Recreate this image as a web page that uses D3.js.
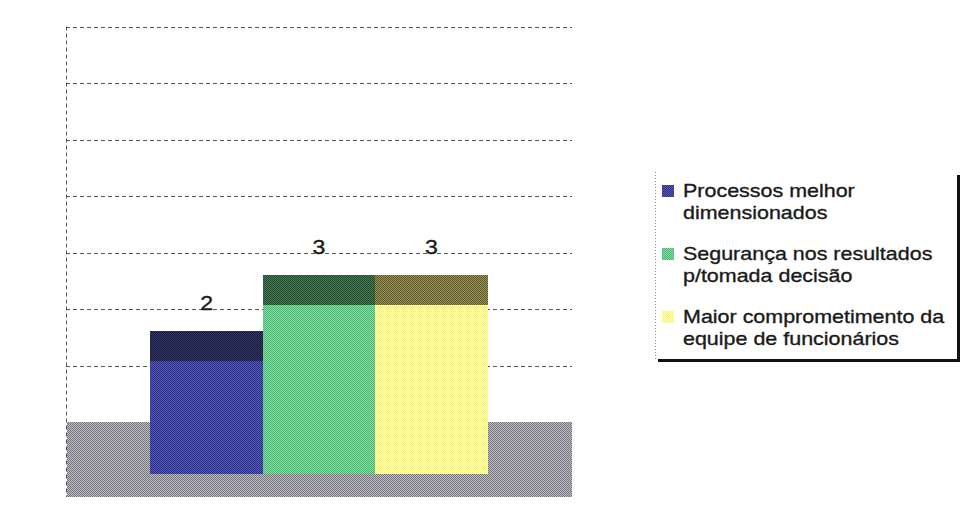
<!DOCTYPE html>
<html>
<head>
<meta charset="utf-8">
<script src="https://cdn.jsdelivr.net/npm/d3@7"></script>
<style>
  html, body { margin: 0; padding: 0; background: #ffffff; }
  svg { display: block; }
  text { font-family: "Liberation Sans", Arial, sans-serif; fill: #1a1a1a; stroke: #1a1a1a; stroke-width: 0.35; }
</style>
</head>
<body>
<svg id="chart" width="960" height="524"></svg>
<script>
// Benefícios percebidos (gráfico de colunas 3D)
const categories = ["Benefícios"];
const series = [
  "Processos melhor dimensionados",
  "Segurança nos resultados p/tomada decisão",
  "Maior comprometimento da equipe de funcionários"
];
const values = [2, 3, 3];
const legendLines = [
  ["Processos melhor", "dimensionados"],
  ["Segurança nos resultados", "p/tomada decisão"],
  ["Maior comprometimento da", "equipe de funcionários"]
];
const yTicks = [1, 2, 3, 4, 5, 6, 7];

// Face colours: [dark dither pixel, light dither pixel]
const frontColors = [["#2c3086", "#5459b8"], ["#4fb877", "#7fdc9e"], ["#f6f27a", "#ffffb0"]];
const topColors   = [["#1a1b3a", "#34376a"], ["#1f4a2e", "#4a7a55"], ["#5c5628", "#9a945a"]];
const floorColors = ["#74747d", "#bdbdc3"];

const svg = d3.select("#chart");
const defs = svg.append("defs");

function checker(id, c) {
  const p = defs.append("pattern")
    .attr("id", id).attr("patternUnits", "userSpaceOnUse")
    .attr("x", 0).attr("y", 0).attr("width", 2).attr("height", 2);
  p.append("rect").attr("width", 2).attr("height", 2).attr("fill", c[1]);
  p.append("rect").attr("x", 0).attr("y", 0).attr("width", 1).attr("height", 1).attr("fill", c[0]);
  p.append("rect").attr("x", 1).attr("y", 1).attr("width", 1).attr("height", 1).attr("fill", c[0]);
  return `url(#${id})`;
}
const frontFill = frontColors.map((c, i) => checker("front" + i, c));
const topFill = topColors.map((c, i) => checker("top" + i, c));
const floorFill = checker("floor", floorColors);

// Plot geometry: back wall and front plane of the 3D box
const plotLeft = 66, plotRight = 572;
const wallTop = 26.5, wallBase = 422;   // back wall, value 0 .. 7
const frontBase = 474;                  // front edge of the columns
const floorBottom = 497;
const depth = 30;                       // projected depth of a column's top face

const yBack = d3.scaleLinear().domain([0, 7]).range([wallBase, wallTop]);
const yFront = d3.scaleLinear().domain([0, 7]).range([frontBase, frontBase - (wallBase - wallTop)]);

const xCat = d3.scaleBand().domain(categories).range([plotLeft, plotRight])
  .paddingInner(0).paddingOuter(0.25);
const xSer = d3.scaleBand().domain(series).range([0, xCat.bandwidth()]);

// Back wall gridlines (dashed)
const grid = svg.append("g");
grid.selectAll("line.grid").data(yTicks).join("line")
  .attr("class", "grid")
  .attr("x1", plotLeft).attr("x2", plotRight)
  .attr("y1", d => Math.round(yBack(d)) + 0.5).attr("y2", d => Math.round(yBack(d)) + 0.5)
  .attr("stroke", "#555").attr("stroke-width", 1)
  .attr("stroke-dasharray", "4,3");

// Left wall edge
grid.append("line")
  .attr("x1", plotLeft + 0.5).attr("x2", plotLeft + 0.5)
  .attr("y1", yBack(7)).attr("y2", floorBottom)
  .attr("stroke", "#555").attr("stroke-width", 1)
  .attr("stroke-dasharray", "4,3");

// Floor
svg.append("rect")
  .attr("x", plotLeft + 1).attr("y", wallBase)
  .attr("width", plotRight - plotLeft - 1).attr("height", floorBottom - wallBase)
  .attr("fill", floorFill);

// Columns
const x0 = xCat(categories[0]);
const bars = svg.append("g");
series.forEach((s, i) => {
  const v = values[i];
  const bx = x0 + xSer(s), bw = xSer.bandwidth();
  // front face
  bars.append("rect")
    .attr("x", Math.round(bx)).attr("y", Math.round(yFront(v)))
    .attr("width", Math.round(bx + bw) - Math.round(bx))
    .attr("height", frontBase - Math.round(yFront(v)))
    .attr("fill", frontFill[i]);
  // top face
  bars.append("rect")
    .attr("x", Math.round(bx)).attr("y", Math.round(yFront(v)) - depth)
    .attr("width", Math.round(bx + bw) - Math.round(bx))
    .attr("height", depth)
    .attr("fill", topFill[i]);
});

// Value labels
svg.append("g").selectAll("text.val").data(series).join("text")
  .attr("class", "val")
  .attr("transform", (s, i) => `translate(${x0 + xSer(s) + xSer.bandwidth() / 2},${yFront(values[i]) - depth - 21}) scale(1.1,1)`)
  .attr("text-anchor", "middle")
  .attr("font-size", 21)
  .attr("stroke-width", 0.6)
  .text((s, i) => d3.format("d")(values[i]));

// Legend
const lg = svg.append("g");
const lgX = 655, lgY = 172, lgW = 302, lgH = 187;
lg.append("rect").attr("x", lgX).attr("y", lgY).attr("width", lgW).attr("height", lgH).attr("fill", "#fff");
lg.append("line").attr("x1", lgX + 0.5).attr("x2", lgX + 0.5).attr("y1", lgY).attr("y2", lgY + lgH)
  .attr("stroke", "#8a8a8a").attr("stroke-dasharray", "1,2");
lg.append("line").attr("x1", lgX + lgW + 1.5).attr("x2", lgX + lgW + 1.5).attr("y1", lgY + 3).attr("y2", lgY + lgH + 3)
  .attr("stroke", "#111").attr("stroke-width", 3);
lg.append("line").attr("x1", lgX + 3).attr("x2", lgX + lgW + 3).attr("y1", lgY + lgH + 1.5).attr("y2", lgY + lgH + 1.5)
  .attr("stroke", "#111").attr("stroke-width", 3);

const itemGap = 63, lineGap = 22;
legendLines.forEach((lines, i) => {
  const top = 185 + i * itemGap;
  lg.append("rect").attr("x", 662).attr("y", top).attr("width", 12).attr("height", 12)
    .attr("fill", frontFill[i]);
  lines.forEach((t, j) => {
    lg.append("text")
      .attr("transform", `translate(683,${top + 12 + j * lineGap}) scale(1.13,1)`)
      .attr("font-size", 19)
      .text(t);
  });
});
</script>
</body>
</html>
